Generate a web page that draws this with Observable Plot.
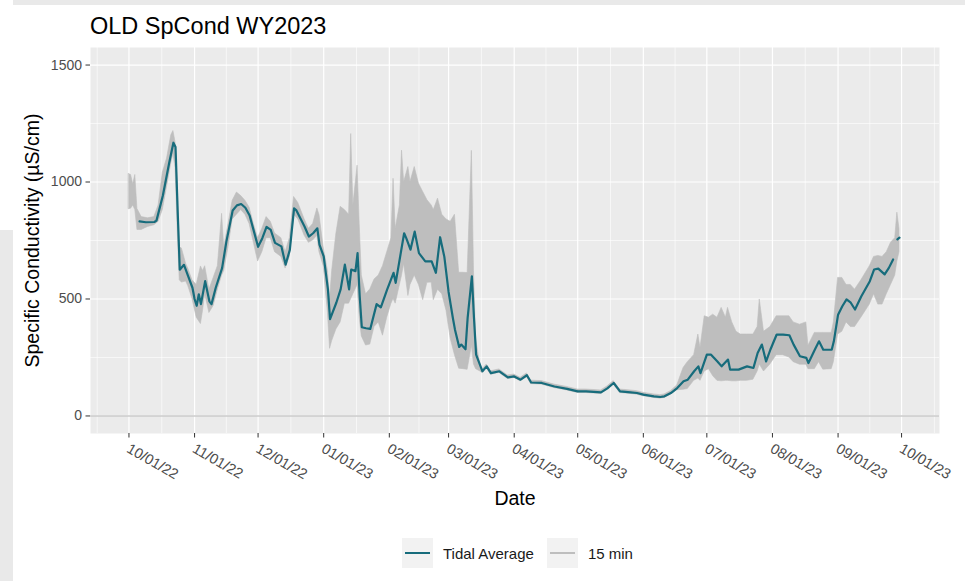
<!DOCTYPE html>
<html>
<head>
<meta charset="utf-8">
<script src="https://cdn.jsdelivr.net/npm/d3@7"></script>
<script src="https://cdn.jsdelivr.net/npm/@observablehq/plot@0.6"></script>
<style>
  html, body { margin: 0; padding: 0; background: #ffffff; }
  #page { position: relative; width: 965px; height: 581px; overflow: hidden; font-family: "Liberation Sans", Arial, Helvetica, sans-serif; }
  .strip { position: absolute; background: #e9e9e9; z-index: 2; }
  #title { position: absolute; left: 90px; top: 15px; font-size: 23.5px; line-height: 23.5px; color: #000; white-space: nowrap; z-index: 2; }
  #chart { position: absolute; left: 0; top: 40px; z-index: 1; }
  #legend { position: absolute; left: 402px; top: 538px; display: flex; align-items: center; font-size: 15px; color: #1a1a1a; z-index: 2; }
  #legend .key { width: 31px; height: 30px; background: #f2f2f2; display: flex; align-items: center; justify-content: center; }
  #legend .key span { display: block; width: 25px; height: 2px; }
  #legend .lab { margin-left: 10px; margin-right: 13px; white-space: nowrap; }
</style>
</head>
<body>
<div id="page">
  <div id="chart"></div>
  <div class="strip" style="left:13px; top:0; width:952px; height:5px;"></div>
  <div class="strip" style="left:0; top:230px; width:13px; height:351px;"></div>
  <div id="title">OLD SpCond WY2023</div>
  <div id="legend"></div>
</div>
<script>
// Specific conductance at OLD, water year 2023.

// Tidally averaged series (µS/cm); NaN marks a gap in the record.
const tidalDates = [
  "2022-10-06","2022-10-09","2022-10-13","2022-10-14","2022-10-17","2022-10-20","2022-10-22","2022-10-23","2022-10-24","2022-10-25",
  "2022-10-27","2022-10-29","2022-10-31","2022-11-01","2022-11-02","2022-11-03","2022-11-04","2022-11-06","2022-11-08","2022-11-09",
  "2022-11-11","2022-11-14","2022-11-16","2022-11-19","2022-11-21","2022-11-23","2022-11-25","2022-11-27","2022-11-29","2022-12-01",
  "2022-12-03","2022-12-05","2022-12-07","2022-12-09","2022-12-12","2022-12-14","2022-12-16","2022-12-18","2022-12-19","2022-12-23",
  "2022-12-25","2022-12-27","2022-12-29","2022-12-30","2023-01-01","2023-01-03","2023-01-04","2023-01-07","2023-01-09","2023-01-11",
  "2023-01-13","2023-01-14","2023-01-16","2023-01-17","2023-01-18","2023-01-19","2023-01-21","2023-01-23","2023-01-26","2023-01-28",
  "2023-01-31","2023-02-03","2023-02-04","2023-02-08","2023-02-09","2023-02-11","2023-02-13","2023-02-15","2023-02-18","2023-02-21",
  "2023-02-23","2023-02-25","2023-02-27","2023-03-01","2023-03-03","2023-03-04","2023-03-06","2023-03-07","2023-03-09","2023-03-10",
  "2023-03-12","2023-03-13","2023-03-14","2023-03-17","2023-03-19","2023-03-21","2023-03-25","2023-03-29","2023-04-01","2023-04-04",
  "2023-04-07","2023-04-09","2023-04-14","2023-04-20","2023-04-26","2023-05-01","2023-05-05","2023-05-12","2023-05-15","2023-05-18",
  "2023-05-21","2023-05-26","2023-05-29","2023-06-01","2023-06-06","2023-06-09","2023-06-11","2023-06-14","2023-06-17","2023-06-20",
  "2023-06-22","2023-06-25","2023-06-27","2023-06-28","2023-07-01","2023-07-03","2023-07-06","2023-07-08","2023-07-11","2023-07-12",
  "2023-07-16","2023-07-20","2023-07-23","2023-07-25","2023-07-27","2023-07-29","2023-07-31","2023-08-03","2023-08-06","2023-08-09",
  "2023-08-11","2023-08-14","2023-08-17","2023-08-18","2023-08-21","2023-08-23","2023-08-25","2023-08-29","2023-08-30","2023-09-01",
  "2023-09-03","2023-09-05","2023-09-07","2023-09-09","2023-09-12","2023-09-16","2023-09-18","2023-09-20","2023-09-23","2023-09-25",
  "2023-09-27","2023-09-28","2023-09-29","2023-09-30"
];
const tidalValues = [
  832, 828, 829, 835, 941, 1081, 1168, 1150, 880, 625,
  646, 597, 548, 500, 471, 520, 478, 576, 490, 478,
  548, 632, 744, 878, 900, 906, 890, 857, 790, 723,
  760, 808, 795, 740, 725, 647, 710, 887, 880, 809,
  767, 781, 802, 732, 682, 541, 414, 485, 541, 647,
  541, 626, 619, 696, 513, 379, 375, 372, 478, 464,
  541, 612, 569, 781, 760, 711, 788, 696, 661, 661,
  612, 764, 680, 530, 420, 370, 295, 305, 285, 419,
  597, 419, 262, 191, 212, 183, 191, 165, 169, 155,
  174, 143, 141, 126, 116, 105, 105, 101, 118, 141,
  105, 101, 98, 91, 84, 81, 84, 98, 119, 148,
  155, 191, 212, 183, 262, 262, 233, 212, 241, 198,
  198, 212, 205, 269, 305, 233, 283, 348, 348, 345,
  305, 255, 248, 226, 283, 319, 283, 283, 319, 433,
  469, 498, 484, 455, 512, 576, 626, 630, 605, 633,
  669, NaN, 755, 762
];

// 15-minute record, summarised as its low and high envelope (µS/cm).
const rawDates = [
  "2022-10-01","2022-10-02","2022-10-03","2022-10-04","2022-10-05","2022-10-07","2022-10-10","2022-10-13","2022-10-15","2022-10-17",
  "2022-10-19","2022-10-21","2022-10-22","2022-10-23","2022-10-24","2022-10-25","2022-10-26","2022-10-28","2022-10-29","2022-10-31",
  "2022-11-02","2022-11-04","2022-11-05","2022-11-06","2022-11-08","2022-11-10","2022-11-12","2022-11-14","2022-11-15","2022-11-17",
  "2022-11-19","2022-11-21","2022-11-23","2022-11-25","2022-11-27","2022-11-29","2022-12-01","2022-12-03","2022-12-05","2022-12-07",
  "2022-12-09","2022-12-12","2022-12-14","2022-12-16","2022-12-18","2022-12-20","2022-12-23","2022-12-25","2022-12-27","2022-12-29",
  "2022-12-30","2023-01-01","2023-01-03","2023-01-04","2023-01-05","2023-01-07","2023-01-09","2023-01-11","2023-01-13","2023-01-14",
  "2023-01-15","2023-01-17","2023-01-18","2023-01-19","2023-01-21","2023-01-23","2023-01-25","2023-01-27","2023-01-29","2023-01-31",
  "2023-02-02","2023-02-03","2023-02-04","2023-02-06","2023-02-07","2023-02-08","2023-02-10","2023-02-11","2023-02-13","2023-02-15",
  "2023-02-17","2023-02-19","2023-02-21","2023-02-22","2023-02-24","2023-02-26","2023-02-28","2023-03-02","2023-03-04","2023-03-06",
  "2023-03-08","2023-03-10","2023-03-12","2023-03-13","2023-03-14","2023-03-16","2023-03-17","2023-03-19","2023-03-21","2023-03-25",
  "2023-03-29","2023-04-01","2023-04-04","2023-04-07","2023-04-09","2023-04-14","2023-04-20","2023-04-26","2023-05-01","2023-05-05",
  "2023-05-12","2023-05-15","2023-05-18","2023-05-21","2023-05-26","2023-05-29","2023-06-01","2023-06-06","2023-06-09","2023-06-11",
  "2023-06-14","2023-06-17","2023-06-20","2023-06-22","2023-06-25","2023-06-27","2023-06-28","2023-06-30","2023-07-02","2023-07-04",
  "2023-07-06","2023-07-08","2023-07-10","2023-07-11","2023-07-13","2023-07-15","2023-07-17","2023-07-20","2023-07-23","2023-07-25",
  "2023-07-26","2023-07-28","2023-07-31","2023-08-03","2023-08-06","2023-08-09","2023-08-11","2023-08-14","2023-08-17","2023-08-18",
  "2023-08-21","2023-08-23","2023-08-25","2023-08-29","2023-08-30","2023-09-01","2023-09-03","2023-09-05","2023-09-07","2023-09-09",
  "2023-09-12","2023-09-16","2023-09-18","2023-09-20","2023-09-22","2023-09-24","2023-09-26","2023-09-28","2023-09-29","2023-09-30"
];
const rawLow = [
  884, 886, 900, 880, 795, 795, 808, 815, 830, 880,
  980, 1080, 1120, 1060, 800, 580, 570, 575, 555, 500,
  420, 393, 450, 520, 440, 470, 540, 600, 620, 720,
  840, 860, 880, 860, 820, 740, 660, 700, 760, 760,
  700, 680, 630, 680, 860, 840, 770, 740, 750, 770,
  700, 640, 440, 287, 320, 370, 400, 480, 480, 500,
  520, 560, 420, 340, 301, 305, 380, 400, 343, 420,
  480, 500, 480, 560, 600, 650, 513, 560, 600, 560,
  495, 569, 570, 495, 540, 520, 450, 330, 260, 202,
  200, 197, 300, 220, 200, 190, 184, 204, 176, 184,
  158, 162, 148, 167, 136, 134, 119, 109, 98, 98,
  94, 111, 134, 98, 94, 91, 84, 77, 74, 77,
  91, 110, 112, 115, 150, 160, 150, 190, 200, 170,
  150, 148, 150, 150, 148, 148, 150, 150, 155, 190,
  220, 190, 220, 260, 260, 250, 230, 219, 219, 200,
  200, 230, 198, 200, 230, 348, 360, 400, 380, 380,
  420, 476, 520, 476, 476, 520, 560, 600, 660, 700
];
const rawHigh = [
  1034, 1030, 990, 1030, 885, 850, 845, 850, 900, 1040,
  1100, 1200, 1218, 1170, 1000, 720, 716, 650, 630, 580,
  560, 639, 620, 640, 540, 590, 640, 864, 720, 820,
  920, 955, 940, 920, 890, 820, 760, 800, 850, 830,
  780, 760, 700, 760, 936, 910, 840, 800, 820, 887,
  859, 720, 620, 500, 620, 780, 894, 880, 860, 1205,
  900, 1070, 820, 600, 520, 541, 583, 600, 640, 700,
  760, 1014, 800, 900, 1134, 1000, 1064, 1000, 1064, 993,
  957, 922, 900, 880, 929, 860, 840, 830, 860, 612,
  612, 611, 1133, 620, 330, 215, 199, 220, 191, 199,
  173, 177, 163, 182, 151, 149, 134, 124, 113, 113,
  109, 126, 149, 113, 109, 106, 99, 92, 89, 92,
  106, 130, 205, 230, 260, 348, 290, 426, 420, 433,
  420, 462, 420, 462, 400, 360, 348, 348, 348, 380,
  498, 360, 380, 426, 426, 426, 400, 390, 400, 300,
  355, 355, 355, 355, 400, 590, 590, 560, 560, 540,
  580, 640, 680, 684, 680, 700, 740, 760, 869, 800
];

// Axis breaks
const yMajor = [0, 500, 1000, 1500];
const yMinor = [250, 750, 1250];
const xMajor = [
  "2022-10-01","2022-11-01","2022-12-01","2023-01-01","2023-02-01","2023-03-01","2023-04-01",
  "2023-05-01","2023-06-01","2023-07-01","2023-08-01","2023-09-01","2023-10-01"
];
const xMinor = [
  "2022-09-16T00:00Z","2022-10-16T12:00Z","2022-11-16T00:00Z","2022-12-16T12:00Z","2023-01-16T12:00Z",
  "2023-02-15T00:00Z","2023-03-16T12:00Z","2023-04-16T00:00Z","2023-05-16T12:00Z","2023-06-16T00:00Z",
  "2023-07-16T12:00Z","2023-08-16T12:00Z","2023-09-16T00:00Z","2023-10-16T12:00Z"
];
const xDomain = ["2022-09-12T20:00Z", "2023-10-18T22:00Z"];
const yDomain = [-75, 1575];

const xLabel = "Date";
const yLabel = "Specific Conductivity (µS/cm)";
const seriesNames = ["Tidal Average", "15 min"];
const seriesColors = ["#176c7c", "#bebebe"];

const parse = d3.isoParse;
const tDates = tidalDates.map(parse);
const rDates = rawDates.map(parse);
const fmt = d3.utcFormat("%m/%d/%y");

const chart = Plot.plot({
  width: 965,
  height: 478,
  marginLeft: 90,
  marginRight: 26,
  marginTop: 7,
  marginBottom: 85,
  style: { fontFamily: "'Liberation Sans', Arial, sans-serif", background: "white", overflow: "visible" },
  x: { type: "utc", domain: xDomain.map(parse) },
  y: { domain: yDomain },
  marks: [
    Plot.frame({ fill: "#ebebeb", stroke: null }),
    Plot.ruleY(yMinor, { stroke: "white", strokeWidth: 0.6 }),
    Plot.ruleX(xMinor.map(parse), { stroke: "white", strokeWidth: 0.6 }),
    Plot.ruleY(yMajor, { stroke: "white", strokeWidth: 1.2 }),
    Plot.ruleX(xMajor.map(parse), { stroke: "white", strokeWidth: 1.2 }),
    Plot.ruleY([0], { stroke: "#b2b2b2", strokeWidth: 1.1 }),
    Plot.areaY(rDates, { x: rDates, y1: rawLow, y2: rawHigh, fill: seriesColors[1], stroke: seriesColors[1], strokeWidth: 0.6 }),
    Plot.line(tDates, { x: tDates, y: tidalValues, stroke: seriesColors[0], strokeWidth: 2.2, strokeLinejoin: "round" }),
    Plot.axisY(yMajor, { tickSize: 4.5, tickPadding: 4, fontSize: 14, tickFormat: d => String(d), fill: "#4d4d4d", stroke: "#333333", label: null }),
    Plot.axisX(xMajor.map(parse), { tickSize: 4.5, tickFormat: () => "", stroke: "#333333", label: null }),
    Plot.text(xMajor.map(parse), {
      x: d => d, text: d => fmt(d), frameAnchor: "bottom", rotate: 30,
      textAnchor: "start", lineAnchor: "top", dx: 2, dy: 9, fontSize: 14.5, fill: "#4d4d4d"
    }),
    Plot.text([yLabel], { frameAnchor: "left", textAnchor: "middle", rotate: -90, dx: -58, fontSize: 19.5, fill: "#000" }),
    Plot.text([xLabel], { frameAnchor: "bottom", textAnchor: "middle", dy: 71, fontSize: 19.5, fill: "#000" })
  ]
});
document.getElementById("chart").appendChild(chart);

// Legend below the chart
const legend = document.getElementById("legend");
seriesNames.forEach((name, i) => {
  const key = document.createElement("div");
  key.className = "key";
  const ln = document.createElement("span");
  ln.style.background = seriesColors[i];
  key.appendChild(ln);
  const lab = document.createElement("div");
  lab.className = "lab";
  lab.textContent = name;
  legend.appendChild(key);
  legend.appendChild(lab);
});
</script>
</body>
</html>
